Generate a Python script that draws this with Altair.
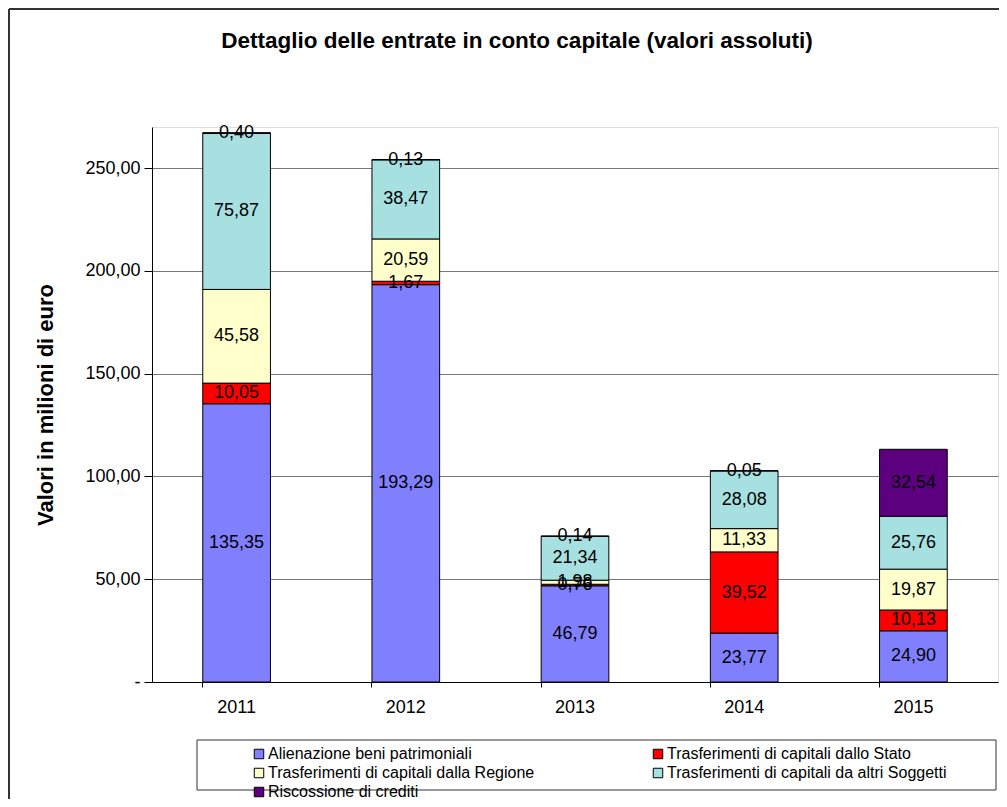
import altair as alt
import pandas as pd

years = ["2011", "2012", "2013", "2014", "2015"]
series = [
    "Alienazione beni patrimoniali",
    "Trasferimenti di capitali dallo Stato",
    "Trasferimenti di capitali dalla Regione",
    "Trasferimenti di capitali da altri Soggetti",
    "Riscossione di crediti",
]
colors = ["#8080FF", "#FF0000", "#FFFFCC", "#A6E0E0", "#5C0080"]

alienazione = [135.35, 193.29, 46.79, 23.77, 24.90]
stato = [10.05, 1.67, 0.76, 39.52, 10.13]
regione = [45.58, 20.59, 1.98, 11.33, 19.87]
altri = [75.87, 38.47, 21.34, 28.08, 25.76]
riscossione = [0.40, 0.13, 0.14, 0.05, 32.54]

values = [alienazione, stato, regione, altri, riscossione]
rows = []
for si, (s, vals) in enumerate(zip(series, values)):
    for y, v in zip(years, vals):
        rows.append({"anno": y, "serie": s, "valore": v, "ordine": si})
df = pd.DataFrame(rows)

W, H = 846, 555
FONT = "Liberation Sans"

base = alt.Chart(df).transform_stack(
    stack="valore", groupby=["anno"], as_=["y0", "y1"],
    sort=[alt.SortField("ordine", order="ascending")],
).transform_calculate(
    mid="(datum.y0 + datum.y1) / 2",
    lab="replace(format(datum.valore, '.2f'), '.', ',')",
)

xenc = alt.X(
    "anno:N", title=None,
    scale=alt.Scale(paddingInner=0.6, paddingOuter=0.3),
    axis=alt.Axis(labelAngle=0, labelFontSize=18, labelFont=FONT, labelColor="black",
                  tickSize=5, labelPadding=11, bandPosition=0, domainColor="black",
                  tickColor="black", grid=False),
)

bars = base.mark_bar(stroke="black", strokeWidth=1).encode(
    x=xenc,
    y=alt.Y("y0:Q", title="Valori in milioni di euro",
            scale=alt.Scale(domain=[0, 270], nice=False),
            axis=alt.Axis(values=[0, 50, 100, 150, 200, 250],
                          labelExpr="datum.value == 0 ? '-' : replace(format(datum.value, '.2f'), '.', ',')",
                          labelFontSize=18, labelFont=FONT, labelColor="black",
                          tickSize=8, labelPadding=4, tickColor="black", domainColor="black",
                          gridColor="#777777", gridWidth=1,
                          titleFontSize=22, titleFont=FONT, titleFontWeight="bold",
                          titleColor="black", titlePadding=27)),
    y2="y1:Q",
    color=alt.Color("serie:N", scale=alt.Scale(domain=series, range=colors),
                    legend=alt.Legend(title=None, orient="none", legendX=99, legendY=619,
                                      direction="horizontal",
                                      columns=2, columnPadding=115, rowPadding=3,
                                      symbolType="square", symbolSize=90,
                                      symbolStrokeColor="black", symbolStrokeWidth=1,
                                      labelFontSize=16, labelFont=FONT, labelColor="black",
                                      labelLimit=400, labelOffset=1)),
    order=alt.Order("ordine:Q"),
)

texts = base.mark_text(fontSize=18, font=FONT, color="black").encode(
    x=alt.X("anno:N"),
    y=alt.Y("mid:Q"),
    text="lab:N",
)

box = alt.Chart(pd.DataFrame({"k": [0]})).mark_rect(
    fill=None, stroke="#333333", strokeWidth=1
).encode(
    x=alt.value(45), x2=alt.value(W - 2), y=alt.value(613), y2=alt.value(H + 108)
)

frame = alt.Chart(pd.DataFrame({"k": [0]})).mark_rule(
    stroke="#333333", strokeWidth=2
).encode(
    x=alt.value(-143), x2=alt.value(W + 2), y=alt.value(-118)
)
frame2 = alt.Chart(pd.DataFrame({"k": [0]})).mark_rule(
    stroke="#333333", strokeWidth=2
).encode(
    x=alt.value(-143), y=alt.value(-118), y2=alt.value(H + 120)
)

chart = alt.layer(bars, texts, box, frame, frame2).properties(
    width=W, height=H,
    title=alt.TitleParams("Dettaglio delle entrate in conto capitale (valori assoluti)",
                          fontSize=22.5, font=FONT, fontWeight="bold", color="black",
                          anchor="middle", dx=-58, offset=-44),
    autosize=alt.AutoSizeParams(type="none"),
    padding={"left": 144, "top": 119, "right": 1, "bottom": 117},
).configure_view(stroke="#444444", strokeWidth=1).configure(background="white")

chart.save("out.html", embed_options={"renderer": "svg", "actions": False})
